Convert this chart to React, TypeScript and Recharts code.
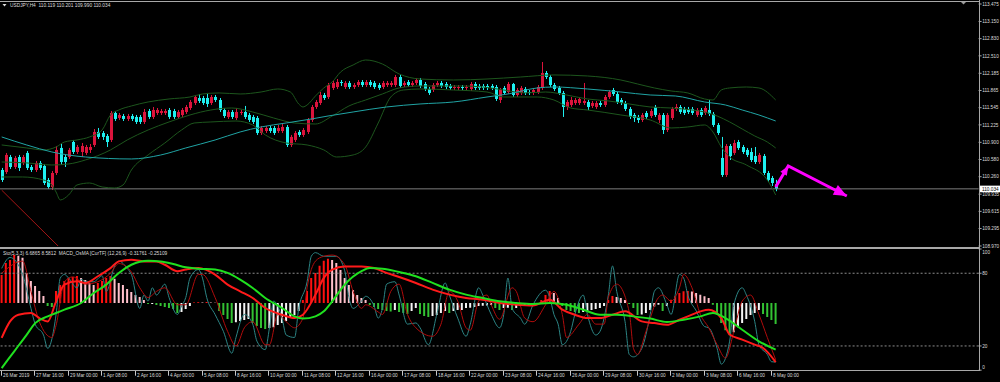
import React from "react";
import { ComposedChart, Bar, Line, XAxis, YAxis, ReferenceLine, Cell } from "recharts";

// USDJPY H4, 186 bars (prices, 3 decimals)
const opens = [
  110.385, 110.348, 110.627, 110.441, 110.627, 110.516, 110.702, 110.441, 110.385, 110.516,
  110.46, 110.199, 110.069, 110.329, 110.795, 110.627, 110.627, 110.906, 110.72, 110.72,
  110.702, 110.758, 110.851, 111.093, 111.074, 111.018, 110.944, 111.446, 111.353, 111.39,
  111.335, 111.39, 111.372, 111.372, 111.279, 111.483, 111.372, 111.446, 111.446, 111.446,
  111.502, 111.483, 111.372, 111.409, 111.465, 111.539, 111.632, 111.725, 111.725, 111.725,
  111.632, 111.744, 111.688, 111.502, 111.372, 111.465, 111.353, 111.446, 111.465, 111.409,
  111.372, 111.353, 111.074, 111.111, 111.167, 111.167, 111.111, 111.111, 111.186, 110.851,
  110.944, 111.093, 111.037, 111.093, 111.316, 111.558, 111.632, 111.781, 111.744, 111.912,
  111.93, 112.023, 111.93, 112.005, 111.93, 111.967, 112.023, 111.967, 112.023, 112.005,
  111.967, 111.93, 111.967, 111.967, 111.967, 112.116, 111.967, 112.023, 111.967, 112.005,
  112.06, 111.986, 111.893, 111.874, 111.967, 112.005, 111.986, 111.949, 111.912, 111.912,
  111.93, 111.912, 111.893, 111.986, 111.949, 111.949, 111.949, 111.949, 111.93, 111.688,
  111.912, 111.837, 111.986, 111.781, 111.819, 111.893, 111.837, 111.819, 111.837, 111.912,
  112.191, 112.116, 111.967, 111.912, 111.819, 111.558, 111.595, 111.632, 111.632, 111.632,
  111.651, 111.577, 111.558, 111.632, 111.595, 111.744, 111.874, 111.8, 111.688, 111.632,
  111.521, 111.409, 111.372, 111.316, 111.446, 111.39, 111.558, 111.316, 111.409, 111.13,
  111.353, 111.521, 111.558, 111.521, 111.521, 111.521, 111.409, 111.502, 111.446, 111.502,
  111.428, 111.223, 110.609, 110.292, 110.832, 110.702, 110.906, 110.813, 110.758, 110.72,
  110.646, 110.534, 110.646, 110.329, 110.236, 110.119,
];
const highs = [
  110.423, 110.702, 110.665, 110.646, 110.665, 110.665, 110.739, 110.478, 110.553, 110.553,
  110.497, 110.236, 110.367, 110.832, 110.869, 110.665, 110.795, 110.944, 110.851, 110.888,
  110.851, 110.869, 111.148, 111.167, 111.111, 111.055, 111.483, 111.483, 111.446, 111.428,
  111.428, 111.428, 111.409, 111.409, 111.521, 111.521, 111.558, 111.539, 111.521, 111.521,
  111.539, 111.521, 111.502, 111.539, 111.595, 111.688, 111.781, 111.8, 111.763, 111.819,
  111.781, 111.781, 111.725, 111.539, 111.502, 111.502, 111.539, 111.502, 111.577, 111.446,
  111.409, 111.39, 111.204, 111.204, 111.204, 111.204, 111.223, 111.241, 111.223, 111.037,
  111.111, 111.13, 111.167, 111.353, 111.595, 111.688, 111.837, 111.819, 112.005, 112.042,
  112.079, 112.06, 112.042, 112.042, 112.005, 112.06, 112.06, 112.06, 112.06, 112.042,
  112.005, 112.042, 112.042, 112.042, 112.154, 112.154, 112.042, 112.06, 112.042, 112.098,
  112.098, 112.023, 111.93, 112.005, 112.042, 112.042, 112.023, 111.986, 111.967, 111.967,
  111.967, 111.967, 112.023, 112.023, 111.986, 111.986, 111.986, 111.986, 111.967, 111.912,
  111.949, 112.023, 112.005, 111.912, 111.949, 111.93, 111.874, 111.912, 111.967, 112.395,
  112.228, 112.154, 112.005, 111.949, 111.856, 111.688, 111.744, 111.725, 111.744, 112.005,
  111.688, 111.67, 111.67, 111.67, 111.781, 111.874, 111.912, 111.837, 111.725, 111.67,
  111.558, 111.446, 111.409, 111.446, 111.483, 111.521, 111.595, 111.446, 111.446, 111.446,
  111.558, 111.614, 111.595, 111.558, 111.558, 111.558, 111.539, 111.539, 111.577, 111.688,
  111.465, 111.26, 111.0, 110.869, 110.869, 110.944, 110.944, 110.851, 110.795, 110.795,
  110.813, 110.702, 110.683, 110.367, 110.274, 110.201,
];
const lows = [
  110.162, 110.311, 110.404, 110.404, 110.367, 110.478, 110.385, 110.348, 110.348, 110.385,
  110.106, 110.032, 110.013, 110.292, 110.478, 110.441, 110.59, 110.683, 110.683, 110.627,
  110.665, 110.702, 110.813, 110.962, 110.944, 110.813, 110.906, 111.297, 111.316, 111.297,
  111.297, 111.297, 111.241, 111.241, 111.241, 111.335, 111.335, 111.409, 111.409, 111.409,
  111.335, 111.335, 111.335, 111.372, 111.428, 111.502, 111.595, 111.632, 111.595, 111.558,
  111.595, 111.651, 111.465, 111.353, 111.335, 111.335, 111.316, 111.409, 111.335, 111.279,
  111.241, 111.037, 111.037, 111.074, 111.074, 111.037, 111.074, 111.074, 110.813, 110.813,
  110.906, 111.0, 111.0, 111.055, 111.279, 111.521, 111.595, 111.688, 111.707, 111.874,
  111.893, 111.949, 111.893, 111.893, 111.893, 111.93, 111.93, 111.93, 111.93, 111.893,
  111.874, 111.893, 111.93, 111.93, 111.93, 111.912, 111.93, 111.93, 111.93, 111.967,
  111.912, 111.856, 111.781, 111.837, 111.93, 111.912, 111.893, 111.874, 111.874, 111.874,
  111.874, 111.874, 111.856, 111.874, 111.874, 111.874, 111.874, 111.874, 111.67, 111.632,
  111.781, 111.8, 111.744, 111.744, 111.781, 111.781, 111.781, 111.781, 111.8, 111.874,
  112.079, 111.93, 111.856, 111.781, 111.372, 111.502, 111.558, 111.595, 111.595, 111.595,
  111.502, 111.539, 111.521, 111.558, 111.558, 111.707, 111.763, 111.614, 111.595, 111.483,
  111.335, 111.279, 111.26, 111.279, 111.335, 111.353, 111.372, 111.26, 111.055, 111.093,
  111.316, 111.483, 111.428, 111.409, 111.428, 111.409, 111.372, 111.372, 111.409, 111.39,
  111.186, 111.037, 110.255, 110.255, 110.571, 110.665, 110.758, 110.683, 110.627, 110.534,
  110.497, 110.497, 110.292, 110.162, 110.087, 109.99,
];
const closes = [
  110.199, 110.665, 110.441, 110.609, 110.423, 110.627, 110.423, 110.385, 110.516, 110.423,
  110.143, 110.069, 110.329, 110.758, 110.534, 110.534, 110.758, 110.72, 110.813, 110.832,
  110.813, 110.813, 111.093, 111.0, 111.0, 110.906, 111.446, 111.335, 111.409, 111.335,
  111.39, 111.335, 111.279, 111.279, 111.465, 111.372, 111.502, 111.502, 111.483, 111.483,
  111.372, 111.372, 111.465, 111.502, 111.558, 111.651, 111.744, 111.67, 111.632, 111.614,
  111.744, 111.688, 111.502, 111.39, 111.465, 111.372, 111.465, 111.465, 111.372, 111.316,
  111.279, 111.074, 111.167, 111.167, 111.111, 111.074, 111.167, 111.186, 110.851, 111.0,
  111.074, 111.037, 111.13, 111.316, 111.558, 111.651, 111.781, 111.725, 111.967, 112.005,
  112.023, 112.005, 112.005, 111.93, 111.967, 112.023, 111.967, 112.023, 111.967, 111.93,
  111.912, 112.005, 112.005, 112.005, 112.116, 111.949, 112.005, 111.967, 112.005, 112.06,
  111.949, 111.893, 111.819, 111.967, 112.005, 111.949, 111.93, 111.912, 111.93, 111.93,
  111.912, 111.93, 111.986, 111.912, 111.912, 111.912, 111.912, 111.912, 111.707, 111.874,
  111.819, 111.986, 111.781, 111.874, 111.912, 111.819, 111.819, 111.874, 111.93, 112.191,
  112.116, 111.967, 111.893, 111.819, 111.558, 111.651, 111.688, 111.688, 111.707, 111.67,
  111.558, 111.632, 111.632, 111.595, 111.744, 111.837, 111.8, 111.651, 111.632, 111.521,
  111.372, 111.353, 111.316, 111.409, 111.372, 111.483, 111.409, 111.409, 111.13, 111.409,
  111.521, 111.558, 111.465, 111.446, 111.465, 111.446, 111.502, 111.409, 111.539, 111.428,
  111.223, 111.074, 110.292, 110.832, 110.646, 110.888, 110.795, 110.72, 110.665, 110.571,
  110.534, 110.665, 110.329, 110.199, 110.143, 110.034,
];

// Bollinger (20) and the long MA, sampled as [bar, price]
const bbUpper = [
  [0, 110.851], [6, 110.795], [10, 110.758], [13, 110.813], [15, 110.906], [18, 110.944], [21, 111.0],
  [24, 111.13], [26, 111.409], [28, 111.502], [31, 111.577], [35, 111.651], [40, 111.707], [45, 111.744],
  [48, 111.8], [52, 111.819], [57, 111.8], [62, 111.837], [66, 111.893], [69, 111.837], [71, 111.614],
  [72, 111.558], [73, 111.595], [75, 111.763], [77, 111.912], [79, 112.023], [81, 112.209], [84, 112.34],
  [87, 112.433], [91, 112.358], [95, 112.172], [100, 112.079], [108, 112.06], [116, 112.079], [124, 112.116],
  [132, 112.154], [140, 112.135], [148, 112.06], [152, 111.986], [156, 111.912], [160, 111.856], [164, 111.819],
  [168, 111.707], [170, 111.688], [172, 111.874], [174, 111.912], [178, 111.93], [181, 111.912], [185, 111.688],
];
const bbMiddle = [
  [0, 110.534], [6, 110.516], [12, 110.478], [16, 110.497], [20, 110.571], [26, 110.758], [30, 110.944],
  [35, 111.13], [40, 111.279], [45, 111.409], [50, 111.502], [55, 111.539], [60, 111.465], [65, 111.353],
  [70, 111.26], [75, 111.241], [79, 111.39], [83, 111.577], [87, 111.688], [91, 111.8], [95, 111.912],
  [100, 111.949], [110, 111.949], [115, 111.93], [120, 111.874], [125, 111.819], [130, 111.837], [135, 111.781],
  [140, 111.707], [145, 111.67], [150, 111.614], [155, 111.558], [160, 111.539], [165, 111.502], [168, 111.465],
  [171, 111.39], [174, 111.279], [177, 111.148], [180, 111.018], [183, 110.906], [185, 110.795],
];
const bbLower = [
  [0, 110.255], [5, 110.255], [10, 110.199], [12, 110.106], [13, 109.975], [14, 109.827], [16, 109.92],
  [18, 110.106], [21, 110.143], [24, 110.069], [27, 110.05], [29, 110.106], [31, 110.385], [35, 110.665],
  [39, 110.888], [43, 111.13], [46, 111.26], [50, 111.279], [56, 111.297], [60, 111.223], [63, 111.037],
  [68, 110.888], [73, 110.851], [77, 110.758], [80, 110.627], [84, 110.665], [87, 110.813], [90, 111.26],
  [93, 111.744], [96, 111.874], [100, 111.893], [108, 111.874], [116, 111.837], [120, 111.744], [128, 111.744],
  [132, 111.688], [136, 111.539], [140, 111.502], [148, 111.409], [155, 111.316], [160, 111.167], [164, 111.186],
  [168, 111.223], [170, 111.093], [172, 110.813], [174, 110.627], [178, 110.478], [183, 110.199], [185, 109.92],
];
const slowMa = [
  [0, 111.0], [6, 110.85], [12, 110.72], [20, 110.627], [31, 110.59], [38, 110.664], [44, 110.795],
  [51, 110.943], [57, 111.093], [62, 111.186], [68, 111.26], [74, 111.334], [78, 111.39], [84, 111.465],
  [92, 111.558], [100, 111.614], [108, 111.651], [116, 111.744], [121, 111.8], [128, 111.912], [132, 111.93],
  [140, 111.893], [148, 111.837], [155, 111.781], [161, 111.763], [168, 111.651], [173, 111.595], [177, 111.502],
  [181, 111.409], [185, 111.297],
];
const trendLine = [[0, 110.01], [14, 108.93]];
const forecast = [[185, 110.069], [188, 110.459], [202, 109.901]];

// Sto(5,3,3) main / signal, sampled at turning points
const stochK = [
  [0, 84], [2, 93], [5, 79], [7, 51], [8, 38], [10, 29], [11, 18], [13, 46], [14, 76], [15, 79], [16, 76],
  [18, 68], [19, 75], [20, 73], [22, 73], [24, 78], [25, 65], [27, 86], [28, 90], [30, 84], [31, 79], [33, 51],
  [34, 62], [35, 57], [36, 68], [37, 62], [39, 71], [40, 60], [42, 46], [43, 53], [44, 60], [45, 76], [47, 83],
  [48, 76], [49, 60], [51, 46], [53, 32], [55, 14], [56, 27], [58, 46], [60, 38], [61, 24], [63, 17], [64, 35],
  [65, 57], [67, 43], [68, 29], [70, 27], [71, 51], [73, 73], [74, 94], [75, 97], [77, 94], [78, 94], [80, 94],
  [82, 82], [83, 60], [84, 51], [86, 57], [87, 61], [89, 53], [90, 43], [91, 51], [92, 71], [94, 73], [95, 62],
  [97, 38], [99, 39], [100, 35], [102, 21], [104, 46], [106, 72], [107, 62], [109, 43], [111, 28], [112, 38],
  [114, 68], [115, 62], [117, 46], [119, 35], [120, 46], [121, 76], [122, 51], [124, 43], [125, 38], [127, 54],
  [130, 66], [131, 60], [132, 46], [133, 38], [134, 21], [136, 32], [137, 46], [139, 62], [140, 46], [142, 29],
  [143, 32], [145, 62], [146, 86], [147, 65], [149, 40], [150, 13], [151, 11], [153, 18], [155, 46], [156, 65],
  [157, 68], [159, 54], [160, 46], [162, 79], [163, 76], [164, 62], [166, 49], [168, 36], [169, 35], [171, 18],
  [172, 5], [174, 24], [175, 54], [177, 68], [178, 62], [180, 40], [181, 21], [183, 13], [184, 7], [185, 6.69],
];
const stochD = [
  [0, 80], [5, 90], [7, 65], [9, 40], [12, 27], [13, 37], [15, 73], [17, 77], [20, 71], [23, 73], [26, 80],
  [28, 88], [31, 81], [33, 68], [35, 60], [37, 65], [39, 68], [42, 54], [44, 54], [47, 79], [48, 79], [51, 60],
  [54, 32], [56, 20], [58, 35], [60, 40], [63, 21], [64, 21], [66, 46], [68, 40], [70, 35], [72, 43], [73, 68],
  [75, 90], [77, 94], [79, 95], [82, 87], [84, 65], [86, 51], [87, 54], [90, 48], [91, 46], [93, 65], [95, 71],
  [97, 46], [99, 35], [103, 28], [105, 38], [107, 65], [109, 57], [111, 35], [112, 33], [114, 57], [116, 62],
  [117, 54], [119, 42], [122, 68], [123, 65], [125, 43], [127, 40], [130, 54], [132, 65], [134, 46], [135, 27],
  [138, 38], [140, 46], [142, 38], [144, 38], [145, 60], [147, 71], [150, 48], [151, 18], [152, 13], [154, 32],
  [157, 60], [158, 62], [160, 57], [162, 68], [163, 79], [165, 68], [167, 46], [169, 35], [171, 21], [173, 10],
  [175, 32], [177, 57], [179, 62], [181, 46], [183, 27], [185, 8.58],
];

// MACD_OsMA (12,26,9): main, signal, histogram
const macdMain = [
  [0, -0.188], [2, -0.099], [4, -0.063], [7, -0.054], [9, -0.081], [11, -0.099], [13, 0.009], [15, 0.099],
  [18, 0.117], [20, 0.108], [23, 0.144], [26, 0.188], [28, 0.224], [31, 0.233], [34, 0.224], [37, 0.224],
  [39, 0.206], [42, 0.171], [44, 0.18], [47, 0.188], [51, 0.153], [54, 0.099], [57, 0.063], [60, 0.027],
  [63, -0.027], [67, -0.063], [70, -0.081], [72, -0.063], [75, 0.045], [77, 0.135], [79, 0.18], [82, 0.197],
  [86, 0.197], [89, 0.188], [92, 0.162], [95, 0.14], [99, 0.108], [103, 0.072], [107, 0.045], [111, 0.027],
  [115, 0.018], [119, 0.0], [123, -0.009], [127, -0.013], [131, 0.018], [134, -0.036], [137, -0.063],
  [140, -0.081], [143, -0.081], [146, -0.063], [149, -0.045], [153, -0.099], [156, -0.108], [159, -0.117],
  [162, -0.09], [164, -0.072], [167, -0.045], [169, -0.036], [172, -0.081], [174, -0.17], [177, -0.197],
  [180, -0.224], [182, -0.242], [185, -0.318],
];
const macdSignal = [
  [0, -0.35], [3, -0.26], [6, -0.17], [8, -0.108], [11, -0.072], [13, -0.054], [15, -0.036], [19, 0.0],
  [22, 0.054], [25, 0.099], [28, 0.162], [31, 0.206], [35, 0.228], [38, 0.224], [41, 0.21], [44, 0.192],
  [47, 0.185], [51, 0.18], [54, 0.162], [57, 0.126], [60, 0.081], [63, 0.027], [67, -0.027], [70, -0.072],
  [72, -0.084], [75, -0.072], [77, -0.045], [79, 0.009], [82, 0.099], [86, 0.171], [88, 0.188], [91, 0.185],
  [95, 0.167], [99, 0.144], [103, 0.108], [107, 0.072], [111, 0.045], [115, 0.027], [119, 0.009], [123, 0.0],
  [127, -0.005], [131, 0.0], [135, -0.009], [139, -0.036], [143, -0.063], [147, -0.063], [151, -0.072],
  [155, -0.084], [159, -0.102], [163, -0.09], [167, -0.072], [170, -0.054], [173, -0.081], [177, -0.144],
  [181, -0.206], [185, -0.251],
];
const osma = [
  0.151, 0.216, 0.232, 0.259, 0.254, 0.243, 0.162, 0.119, 0.092, 0.065,
  0.038, -0.016, -0.022, 0.065, 0.097, 0.119, 0.135, 0.14, 0.146, 0.135,
  0.124, 0.108, 0.097, 0.108, 0.119, 0.135, 0.146, 0.13, 0.108, 0.097,
  0.076, 0.059, 0.043, 0.032, 0.016, -0.005, -0.005, -0.011, -0.016, -0.022,
  -0.027, -0.032, -0.054, -0.049, -0.032, -0.016, 0.003, 0.004, 0.003, 0.005,
  0.003, 0.002, -0.043, -0.065, -0.086, -0.108, -0.103, -0.097, -0.092, -0.086,
  -0.108, -0.124, -0.135, -0.14, -0.135, -0.13, -0.119, -0.108, -0.097, -0.081,
  -0.065, -0.043, 0.016, 0.065, 0.135, 0.162, 0.2, 0.227, 0.238, 0.232,
  0.216, 0.178, 0.135, 0.097, 0.07, 0.043, 0.027, 0.016, -0.011, -0.022,
  -0.032, -0.038, -0.043, -0.046, -0.038, -0.049, -0.054, -0.059, -0.043, -0.027,
  -0.059, -0.07, -0.076, -0.07, -0.065, -0.054, -0.043, -0.054, -0.043, -0.038,
  -0.037, -0.027, -0.026, -0.022, -0.016, -0.015, -0.014, -0.011, -0.027, -0.038,
  -0.027, -0.026, -0.038, -0.027, -0.016, -0.011, -0.01, -0.005, -0.003, 0.016,
  0.043, 0.065, 0.054, 0.027, -0.016, -0.038, -0.043, -0.049, -0.054, -0.049,
  -0.043, -0.038, -0.032, -0.027, -0.016, 0.016, 0.038, 0.032, 0.027, 0.016,
  -0.005, -0.027, -0.065, -0.062, -0.054, -0.038, -0.019, -0.009, -0.043, -0.016,
  0.018, 0.036, 0.054, 0.063, 0.065, 0.062, 0.054, 0.045, 0.036, 0.027,
  -0.009, -0.054, -0.108, -0.146, -0.173, -0.157, -0.13, -0.108, -0.086, -0.065,
  -0.054, -0.038, -0.059, -0.076, -0.092, -0.113,
];

const priceTicks = [
  113.475, 113.15, 112.83, 112.51, 112.185, 111.865, 111.545, 111.225,
  110.9, 110.58, 110.26, 109.935, 109.615, 109.295, 108.97,
];
const stochTicks = [0, 20, 80, 100];
const timeLabels = [
  "26 Mar 2019", "27 Mar 16:00", "29 Mar 00:00", "1 Apr 08:00", "2 Apr 16:00", "4 Apr 00:00",
  "5 Apr 08:00", "8 Apr 16:00", "10 Apr 00:00", "11 Apr 08:00", "12 Apr 16:00", "16 Apr 00:00",
  "17 Apr 08:00", "18 Apr 16:00", "22 Apr 00:00", "23 Apr 08:00", "24 Apr 16:00", "26 Apr 00:00",
  "29 Apr 08:00", "30 Apr 16:00", "2 May 00:00", "3 May 08:00", "6 May 16:00", "8 May 00:00",
];

const SLOTS = 234; // bar slots across the plot, the right part is empty chart shift
const timeTicks = timeLabels.map((_, k) => k * 8);

const FONT = "'Liberation Sans', Arial, sans-serif";
const TEXT = "#dcdcdc";
const FRAME = "#a8a8a8";
const UP = "#dc143c";
const DOWN = "#1ef0f0";
const BAND = "#1d561d";
const MAGENTA = "#ff00ff";

const toMap = (pairs: number[][]) => new Map(pairs.map(([i, v]) => [i, v] as [number, number]));
const sparse: Record<string, Map<number, number>> = {
  bbUp: toMap(bbUpper),
  bbMid: toMap(bbMiddle),
  bbLow: toMap(bbLower),
  ma: toMap(slowMa),
  trend: toMap(trendLine),
  fc: toMap(forecast),
  stoK: toMap(stochK),
  stoD: toMap(stochD),
  macd: toMap(macdMain),
  signal: toMap(macdSignal),
};

const rows = Array.from({ length: SLOTS }, (_, i) => {
  const row: Record<string, number | undefined> = {
    i,
    open: opens[i],
    high: highs[i],
    low: lows[i],
    close: closes[i],
    osma: osma[i],
  };
  for (const [key, m] of Object.entries(sparse)) row[key] = m.get(i);
  return row;
});

function osmaColor(i: number) {
  const v = osma[i];
  const prev = i > 0 ? osma[i - 1] : 0;
  if (v >= 0) return v > prev ? "#ff1010" : "#ffc0cb";
  return v < prev ? "#33c233" : "#f4f4f4";
}

function Candle(props: any) {
  const { x, y, width, height, payload } = props;
  if (!payload || payload.high == null || x == null) return <g />;
  const { open, close, high, low } = payload;
  const k = high > low ? height / (high - low) : 0;
  const cx = Math.round(x + width / 2) + 0.5;
  const top = y + (high - Math.max(open, close)) * k;
  const bot = y + (high - Math.min(open, close)) * k;
  const color = close >= open ? UP : DOWN;
  return (
    <g>
      <line x1={cx} x2={cx} y1={y} y2={y + height} stroke={color} strokeWidth={1} />
      <rect x={cx - 1.5} y={top} width={3} height={Math.max(bot - top, 1)} fill={color} />
    </g>
  );
}

const ARROW_TURN = [0, -59, 28];
const ARROW_LEN = [0, 9, 13];

function ArrowHead(props: any) {
  const { cx, cy, payload } = props;
  const k = payload ? forecast.findIndex(([i]) => i === payload.i) : -1;
  if (k < 1 || cx == null || cy == null) return <g key={`ah-${props.index}`} />;
  const len = ARROW_LEN[k];
  const half = len * 0.42;
  return (
    <polygon
      key={`ah-${props.index}`}
      points={`0,0 ${-len},${-half} ${-len},${half}`}
      transform={`translate(${cx},${cy}) rotate(${ARROW_TURN[k]})`}
      fill={MAGENTA}
    />
  );
}

function BidLabel(props: any) {
  const vb = props.viewBox;
  if (!vb) return null;
  const x = vb.x + vb.width;
  return (
    <g>
      <rect x={x + 0.4} y={vb.y - 3.2} width={21.6} height={6.6} fill="#ffffff" />
      <text x={x + 3.4} y={vb.y} dy="0.355em" fontSize={4.7} fontFamily={FONT} fill="#000">
        {props.text}
      </text>
    </g>
  );
}

function TimeTick(props: any) {
  const { x, y, payload } = props;
  const k = timeTicks.indexOf(Number(payload.value));
  if (k < 0) return <g />;
  const tx = Math.round(x) - 0.5;
  return (
    <g>
      <line x1={tx} x2={tx} y1={y} y2={y + 5.5} stroke="#c8c8c8" strokeWidth={1} />
      <text x={tx + 1.6} y={y + 6.8} fontSize={4.7} fontFamily={FONT} fill={TEXT}>
        {timeLabels[k]}
      </text>
    </g>
  );
}

function StoTick(props: any) {
  const { x, y, payload } = props;
  const v = Number(payload.value);
  const shift = v === 100 ? 3.2 : v === 0 ? -3.2 : 0;
  return (
    <text x={x} y={y + shift} dy="0.355em" fontSize={4.7} fontFamily={FONT} fill={TEXT}>
      {v}
    </text>
  );
}

const hline = (top: number, h = 1, w = 980) => (
  <div style={{ position: "absolute", left: 0, top, width: w, height: h, background: FRAME }} />
);

export default function App() {
  const last = closes[closes.length - 1];
  return (
    <div
      style={{
        position: "absolute",
        left: 0,
        top: 0,
        width: 1000,
        height: 382,
        background: "#000",
        overflow: "hidden",
        fontFamily: FONT,
      }}
    >
      <div style={{ position: "absolute", left: 0, top: 0 }}>
        <ComposedChart
          width={1000}
          height={248}
          data={rows}
          margin={{ top: 4, right: 0, bottom: 2, left: -0.4 }}
        >
          <XAxis dataKey="i" type="category" hide />
          <YAxis
            orientation="right"
            width={21.4}
            domain={[108.97, 113.475]}
            ticks={priceTicks}
            interval={0}
            allowDataOverflow
            axisLine={false}
            tickSize={3}
            tickMargin={0.6}
            tickLine={{ stroke: FRAME }}
            tick={{ fill: TEXT, fontSize: 4.7, fontFamily: FONT }}
            tickFormatter={(v: number) => v.toFixed(3)}
          />
          <ReferenceLine y={last} stroke="#7c7c7c" label={<BidLabel text={last.toFixed(3)} />} />
          <Line dataKey="bbUp" type="monotone" stroke={BAND} strokeWidth={1} dot={false} activeDot={false} connectNulls isAnimationActive={false} />
          <Line dataKey="bbMid" type="monotone" stroke={BAND} strokeWidth={1} dot={false} activeDot={false} connectNulls isAnimationActive={false} />
          <Line dataKey="bbLow" type="monotone" stroke={BAND} strokeWidth={1} dot={false} activeDot={false} connectNulls isAnimationActive={false} />
          <Line dataKey="ma" type="monotone" stroke="#20a4a4" strokeWidth={1} dot={false} activeDot={false} connectNulls isAnimationActive={false} />
          <Line dataKey="trend" type="linear" stroke="#a31515" strokeWidth={1} dot={false} activeDot={false} connectNulls isAnimationActive={false} />
          <Bar
            dataKey={(d: any) => (d.high == null ? undefined : [d.low, d.high])}
            barSize={3}
            shape={(p: any) => <Candle {...p} />}
            isAnimationActive={false}
          />
          <Line
            dataKey="fc"
            type="linear"
            stroke={MAGENTA}
            strokeWidth={3}
            dot={(p: any) => <ArrowHead {...p} key={`ah-${p.index}`} />}
            activeDot={false}
            connectNulls
            isAnimationActive={false}
          />
        </ComposedChart>
      </div>

      <div style={{ position: "absolute", left: 0, top: 248 }}>
        <ComposedChart
          width={1000}
          height={134}
          data={rows}
          margin={{ top: 1, right: 0, bottom: 0, left: -0.4 }}
        >
          <XAxis
            dataKey="i"
            type="category"
            height={11.8}
            ticks={timeTicks}
            interval={0}
            axisLine={false}
            tickLine={false}
            tickSize={0}
            tickMargin={0}
            tick={<TimeTick />}
          />
          <YAxis
            yAxisId="sto"
            orientation="right"
            width={21.4}
            domain={[0, 100]}
            ticks={stochTicks}
            interval={0}
            axisLine={false}
            tickSize={3}
            tickMargin={0.6}
            tickLine={{ stroke: FRAME }}
            tick={<StoTick />}
          />
          <YAxis yAxisId="macd" hide domain={[-0.3617, 0.2907]} allowDataOverflow />
          <ReferenceLine yAxisId="sto" y={80} stroke="#8c8c8c" strokeDasharray="2 2" />
          <ReferenceLine yAxisId="sto" y={20} stroke="#8c8c8c" strokeDasharray="2 2" />
          <Bar yAxisId="macd" dataKey="osma" barSize={2} isAnimationActive={false}>
            {rows.map((r, i) => (
              <Cell key={i} fill={i < osma.length ? osmaColor(i) : "none"} />
            ))}
          </Bar>
          <Line yAxisId="sto" dataKey="stoK" type="monotone" stroke="#2c8585" strokeWidth={1} dot={false} activeDot={false} connectNulls isAnimationActive={false} />
          <Line yAxisId="sto" dataKey="stoD" type="monotone" stroke="#b00c0c" strokeWidth={1} dot={false} activeDot={false} connectNulls isAnimationActive={false} />
          <Line yAxisId="macd" dataKey="macd" type="monotone" stroke="#ff1a1a" strokeWidth={2} dot={false} activeDot={false} connectNulls isAnimationActive={false} />
          <Line yAxisId="macd" dataKey="signal" type="monotone" stroke="#1fe01f" strokeWidth={2} dot={false} activeDot={false} connectNulls isAnimationActive={false} />
        </ComposedChart>
      </div>

      {/* MT4 window frame */}
      {hline(1)}
      {hline(247, 2)}
      {hline(370)}
      <div style={{ position: "absolute", left: 979, top: 0, width: 1, height: 371, background: FRAME }} />

      <svg style={{ position: "absolute", left: 0, top: 0 }} width={1000} height={12}>
        <polygon points="2.5,4 6.5,4 4.5,6.5" fill={TEXT} />
        <polygon points="961,2 966,2 963.5,4.5" fill="#9a9a9a" />
      </svg>
      <div
        style={{
          position: "absolute",
          left: 10,
          top: 3,
          fontSize: 4.8,
          lineHeight: "5px",
          color: TEXT,
          whiteSpace: "pre",
        }}
      >
        {`USDJPY,H4  ${opens[185].toFixed(3)} ${highs[185].toFixed(3)} ${lows[185].toFixed(3)} ${last.toFixed(3)}`}
      </div>
      <div
        style={{
          position: "absolute",
          left: 3,
          top: 251,
          fontSize: 4.8,
          lineHeight: "5px",
          color: TEXT,
          whiteSpace: "pre",
        }}
      >
        {`Sto(5,3,3) 6.6865 8.5812  MACD_OsMA [CurTF] (12,26,9) -0.31761 -0.25109`}
      </div>
    </div>
  );
}
